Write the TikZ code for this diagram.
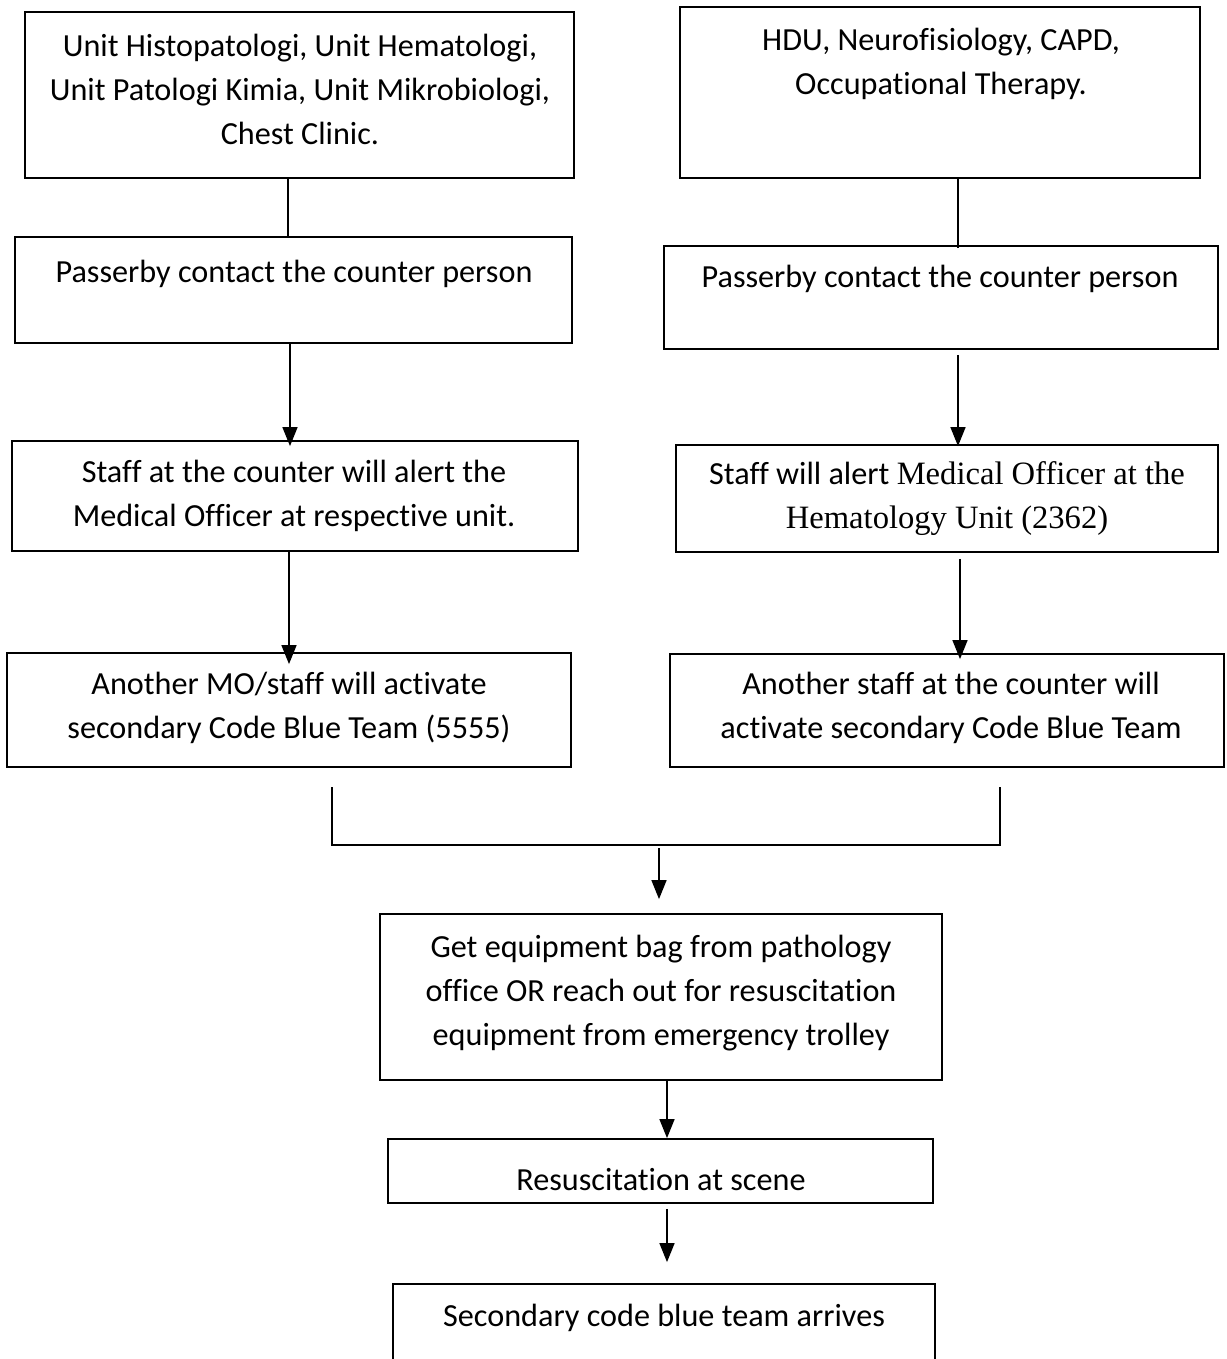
\documentclass[tikz,border=0pt]{standalone}
\usepackage{fontspec}
\setmainfont{Carlito}[Ligatures=NoCommon]
\newfontfamily\timesfont{Liberation Serif}[Ligatures=NoCommon]
\usetikzlibrary{arrows.meta,fit}
\newcommand{\flowfont}{\fontsize{16.1pt}{22pt}\selectfont}
\newcommand{\serifpart}{\timesfont\fontsize{16.3pt}{22pt}\selectfont}
\tikzset{
  box/.style={draw, line width=0.9pt, inner sep=0pt, rectangle},
  txt/.style={align=center, inner sep=0pt, font=\flowfont},
  arr/.style={-{Triangle[length=9.5pt,width=7.5pt]}, line width=0.75pt},
  link/.style={line width=0.75pt}
}
\begin{document}
\begin{tikzpicture}[x=0.5pt,y=-0.5pt]
\useasboundingbox (0,0) rectangle (1226,1359);
\clip (0,0) rectangle (1226,1359);
\fill[white] (0,0) rectangle (1226,1359);

% left column
\node[box, fit={(25,12) (574,178)}] (l1) {};
\node[box, fit={(15,237) (572,343)}] (l2) {};
\node[box, fit={(12,441) (578,551)}] (l3) {};
\node[box, fit={(7,653) (571,767)}] (l4) {};
% right column
\node[box, fit={(680,7) (1200,178)}] (r1) {};
\node[box, fit={(664,246) (1218,349)}] (r2) {};
\node[box, fit={(676,445) (1218,552)}] (r3) {};
\node[box, fit={(670,654) (1224,767)}] (r4) {};
% common steps
\node[box, fit={(380,914) (942,1080)}] (b1) {};
\node[box, fit={(388,1139) (933,1203)}] (b2) {};
\node[box, fit={(393,1284) (935,1380)}] (b3) {};

% texts
\node[txt] (t1) at (300,89) {Unit Histopatologi, Unit Hematologi,\\Unit Patologi Kimia, Unit Mikrobiologi,\\Chest Clinic.};
\node[txt] (t2) at (294,274) {Passerby contact the counter person};
\node[txt] (t3) at (294,496) {Staff at the counter will alert the\\Medical Officer at respective unit.};
\node[txt] (t4) at (289,708) {Another MO/staff will activate\\secondary Code Blue Team (5555)};
\node[txt] (t5) at (941,64) {HDU, Neurofisiology, CAPD,\\Occupational Therapy.};
\node[txt] (t6) at (940,279) {Passerby contact the counter person};
\node[txt] (t7) at (947,499) {Staff will alert {\serifpart Medical Officer at the}\\{\serifpart Hematology Unit (2362)}};
\node[txt] (t8) at (951,708) {Another staff at the counter will\\activate secondary Code Blue Team};
\node[txt] (t9) at (661,993) {Get equipment bag from pathology\\office OR reach out for resuscitation\\equipment from emergency trolley};
\node[txt] (t10) at (661,1180) {Resuscitation at scene};
\node[txt] (t11) at (664,1318) {Secondary code blue team arrives};

% connector anchors
\coordinate (lx1) at (288,0);
\coordinate (lx2) at (290,0);
\coordinate (lx3) at (289,0);
\coordinate (rx1) at (958,0);
\coordinate (rx2) at (958,0);
\coordinate (rx3) at (960,0);
\coordinate (ml) at (332,787);
\coordinate (mr) at (1000,787);
\coordinate (mlb) at (332,845);
\coordinate (mrb) at (1000,845);
\coordinate (mc) at (659,848);
\coordinate (bx1) at (667,0);

\draw[link] (l1.south -| lx1) -- (l2.north -| lx1);
\draw[arr] (l2.south -| lx2) -- ([yshift=-3pt]l3.north -| lx2);
\draw[arr] (l3.south -| lx3) -- ([yshift=-6pt]l4.north -| lx3);

\draw[link] (r1.south -| rx1) -- ([yshift=-1.5pt]r2.north -| rx1);
\draw[arr] ([yshift=-2.5pt]r2.south -| rx2) -- ([yshift=-1pt]r3.north -| rx2);
\draw[arr] ([yshift=-3pt]r3.south -| rx3) -- ([yshift=-3pt]r4.north -| rx3);

\draw[link] (ml) -- (mlb) -- (mrb) -- (mr);
\draw[arr] (mc) -- ([yshift=7pt]b1.north -| mc);
\draw[arr] (b1.south -| bx1) -- (b2.north -| bx1);
\draw[arr] ([yshift=-2.5pt]b2.south -| bx1) -- ([yshift=10.5pt]b3.north -| bx1);
\end{tikzpicture}
\end{document}
